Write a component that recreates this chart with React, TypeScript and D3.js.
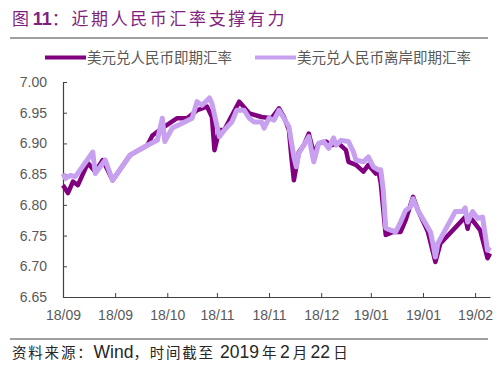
import { useRef, useEffect } from 'react';
import * as d3 from 'd3';

// 美元兑人民币即期汇率 (onshore)
const onshoreDates = [
  '2018-09-03', '2018-09-05', '2018-09-07', '2018-09-09', '2018-09-13', '2018-09-16', '2018-09-19', '2018-09-23',
  '2018-09-30', '2018-10-07', '2018-10-09', '2018-10-13', '2018-10-19', '2018-10-23', '2018-10-27', '2018-10-31',
  '2018-11-02', '2018-11-03', '2018-11-05', '2018-11-07', '2018-11-13', '2018-11-17', '2018-11-22', '2018-11-26',
  '2018-11-29', '2018-12-01', '2018-12-03', '2018-12-04', '2018-12-05', '2018-12-07', '2018-12-09', '2018-12-11',
  '2018-12-13', '2018-12-15', '2018-12-18', '2018-12-20', '2018-12-23', '2018-12-26', '2018-12-27', '2018-12-30',
  '2019-01-02', '2019-01-04', '2019-01-07', '2019-01-08', '2019-01-09', '2019-01-11', '2019-01-14', '2019-01-17',
  '2019-01-19', '2019-01-22', '2019-01-24', '2019-01-28', '2019-01-31', '2019-02-02', '2019-02-12', '2019-02-13',
  '2019-02-14', '2019-02-18', '2019-02-21', '2019-02-22',
];
const onshoreValues = [
  6.832, 6.819, 6.838, 6.832, 6.868, 6.854, 6.873, 6.840,
  6.881, 6.897, 6.913, 6.925, 6.941, 6.941, 6.954, 6.960,
  6.943, 6.889, 6.922, 6.922, 6.968, 6.949, 6.943, 6.941,
  6.957, 6.943, 6.922, 6.878, 6.840, 6.886, 6.897, 6.916,
  6.884, 6.900, 6.903, 6.897, 6.900, 6.889, 6.870, 6.865,
  6.854, 6.865, 6.851, 6.857, 6.835, 6.751, 6.756, 6.756,
  6.775, 6.813, 6.791, 6.756, 6.707, 6.737, 6.780, 6.761,
  6.780, 6.759, 6.713, 6.721,
];

// 美元兑人民币离岸即期汇率 (offshore)
const offshoreDates = [
  '2018-09-03', '2018-09-04', '2018-09-06', '2018-09-08', '2018-09-15', '2018-09-16', '2018-09-20', '2018-09-23',
  '2018-09-30', '2018-10-07', '2018-10-11', '2018-10-13', '2018-10-14', '2018-10-17', '2018-10-21', '2018-10-25',
  '2018-10-27', '2018-10-29', '2018-11-01', '2018-11-02', '2018-11-05', '2018-11-07', '2018-11-10', '2018-11-12',
  '2018-11-15', '2018-11-17', '2018-11-19', '2018-11-22', '2018-11-23', '2018-11-25', '2018-11-27', '2018-11-29',
  '2018-12-01', '2018-12-03', '2018-12-05', '2018-12-06', '2018-12-07', '2018-12-11', '2018-12-13', '2018-12-15',
  '2018-12-17', '2018-12-19', '2018-12-21', '2018-12-22', '2018-12-24', '2018-12-27', '2018-12-29', '2018-12-30',
  '2019-01-02', '2019-01-04', '2019-01-06', '2019-01-08', '2019-01-09', '2019-01-10', '2019-01-11', '2019-01-13',
  '2019-01-15', '2019-01-17', '2019-01-19', '2019-01-21', '2019-01-22', '2019-01-24', '2019-01-27', '2019-01-29',
  '2019-01-30', '2019-01-31', '2019-02-01', '2019-02-08', '2019-02-11', '2019-02-12', '2019-02-13', '2019-02-15',
  '2019-02-17', '2019-02-19', '2019-02-21', '2019-02-22',
];
const offshoreValues = [
  6.851, 6.843, 6.848, 6.846, 6.886, 6.851, 6.873, 6.840,
  6.881, 6.897, 6.905, 6.941, 6.903, 6.925, 6.933, 6.941,
  6.968, 6.962, 6.974, 6.965, 6.911, 6.922, 6.935, 6.954,
  6.954, 6.941, 6.935, 6.935, 6.925, 6.941, 6.938, 6.954,
  6.941, 6.927, 6.878, 6.862, 6.884, 6.911, 6.870, 6.900,
  6.903, 6.892, 6.909, 6.897, 6.905, 6.903, 6.886, 6.873,
  6.870, 6.878, 6.862, 6.857, 6.857, 6.824, 6.762, 6.759,
  6.756, 6.772, 6.791, 6.797, 6.810, 6.791, 6.770, 6.756,
  6.737, 6.715, 6.737, 6.789, 6.789, 6.795, 6.772, 6.789,
  6.778, 6.780, 6.726, 6.731,
];

const xTickDates = ['2018-09-03', '2018-09-24', '2018-10-15', '2018-11-04', '2018-11-25', '2018-12-16', '2019-01-05', '2019-01-26', '2019-02-16'];
const xTickLabels = ['18/09', '18/09', '18/10', '18/11', '18/11', '18/12', '19/01', '19/01', '19/02'];
const yTicks = [6.65, 6.70, 6.75, 6.80, 6.85, 6.90, 6.95, 7.00];

const seriesNames = ['美元兑人民币即期汇率', '美元兑人民币离岸即期汇率'];
const seriesColors = ['#800080', '#c8a0f0'];

const titleText = '图 11：近期人民币汇率支撑有力';

export default function App() {
  const svgRef = useRef<SVGSVGElement | null>(null);

  useEffect(() => {
    const width = 500, height = 365;
    const margin = { top: 82, left: 63 };
    const innerWidth = 490 - margin.left;
    const innerHeight = 297 - margin.top;

    const svg = d3.select(svgRef.current);
    svg.selectAll('*').remove();
    svg.attr('width', width).attr('height', height);

    const parse = d3.timeParse('%Y-%m-%d');
    const grey = '#595959';
    const cjk = '"Noto Sans CJK SC", sans-serif';
    const latin = '"Liberation Sans", Arial, sans-serif';

    // 标题
    const title = svg.append('text')
      .attr('x', 12)
      .attr('y', 25)
      .attr('fill', '#7f1f7f')
      .style('font-family', cjk)
      .style('font-size', '17px');
    title.append('tspan').text('图 ');
    title.append('tspan').style('font-family', latin).style('font-weight', 'bold').style('font-size', '18px').text('11');
    title.append('tspan').attr('letter-spacing', 2.6).text(titleText.slice(4));

    svg.append('line')
      .attr('x1', 10).attr('x2', 488)
      .attr('y1', 38).attr('y2', 38)
      .attr('stroke', '#7f7f7f').attr('stroke-width', 1.5);

    // 图例
    const legendX = [45, 255];
    seriesNames.forEach((name, i) => {
      svg.append('line')
        .attr('x1', legendX[i]).attr('x2', legendX[i] + 41)
        .attr('y1', 57.5).attr('y2', 57.5)
        .attr('stroke', seriesColors[i]).attr('stroke-width', 4);
      svg.append('text')
        .attr('x', legendX[i] + 42)
        .attr('y', 62.5)
        .attr('fill', grey)
        .style('font-family', cjk)
        .style('font-size', '14.5px')
        .text(name);
    });

    const g = svg.append('g').attr('transform', `translate(${margin.left},${margin.top})`);

    const xScale = d3.scaleTime()
      .domain([parse('2018-09-03') as Date, parse('2019-02-22') as Date])
      .range([0, innerWidth]);
    const yScale = d3.scaleLinear().domain([6.65, 7.0]).range([innerHeight, 0]);

    // Y 轴
    const yAxis = g.append('g')
      .call(d3.axisLeft(yScale).tickValues(yTicks).tickFormat(d3.format('.2f')).tickSizeInner(-4).tickSizeOuter(0).tickPadding(16));
    yAxis.select('.domain').attr('stroke', '#404040').attr('stroke-width', 1.2);
    yAxis.selectAll('.tick line').attr('stroke', '#404040');
    yAxis.selectAll('.tick text').attr('fill', grey).style('font-family', latin).style('font-size', '14px');

    // X 轴
    const xAxis = g.append('g')
      .attr('transform', `translate(0,${innerHeight})`)
      .call(d3.axisBottom(xScale)
        .tickValues(xTickDates.map((d) => parse(d) as Date))
        .tickFormat((d, i) => xTickLabels[i])
        .tickSizeInner(-4).tickSizeOuter(0).tickPadding(13));
    xAxis.select('.domain').attr('stroke', '#404040').attr('stroke-width', 1.2);
    xAxis.selectAll('.tick line').attr('stroke', '#404040');
    xAxis.selectAll('.tick text').attr('fill', grey).style('font-family', latin).style('font-size', '14px');

    // 折线
    const line = d3.line<[Date, number]>()
      .x((d) => xScale(d[0]))
      .y((d) => yScale(d[1]));

    const onshore: [Date, number][] = onshoreDates.map((d, i) => [parse(d) as Date, onshoreValues[i]]);
    const offshore: [Date, number][] = offshoreDates.map((d, i) => [parse(d) as Date, offshoreValues[i]]);

    g.append('path')
      .datum(onshore)
      .attr('d', line)
      .attr('fill', 'none')
      .attr('stroke', seriesColors[0])
      .attr('stroke-width', 4.5)
      .attr('stroke-linejoin', 'round');
    g.append('path')
      .datum(offshore)
      .attr('d', line)
      .attr('fill', 'none')
      .attr('stroke', seriesColors[1])
      .attr('stroke-width', 5)
      .attr('stroke-linejoin', 'round');

    // 资料来源
    svg.append('line')
      .attr('x1', 10).attr('x2', 488)
      .attr('y1', 339).attr('y2', 339)
      .attr('stroke', '#404040').attr('stroke-width', 1);
    const src = svg.append('text')
      .attr('x', 12)
      .attr('y', 358)
      .attr('fill', '#262626')
      .style('font-family', cjk)
      .style('font-size', '14.5px');
    src.append('tspan').attr('letter-spacing', 1.8).text('资料来源：');
    src.append('tspan').style('font-family', latin).style('font-size', '17.5px').text('Wind');
    src.append('tspan').attr('letter-spacing', 1.8).text('，时间截至 ');
    src.append('tspan').style('font-family', latin).style('font-size', '17.5px').text('2019');
    src.append('tspan').text(' 年 ');
    src.append('tspan').style('font-family', latin).style('font-size', '17.5px').text('2');
    src.append('tspan').text(' 月 ');
    src.append('tspan').style('font-family', latin).style('font-size', '17.5px').text('22');
    src.append('tspan').text(' 日');
  }, []);

  return (
    <div style={{ position: 'absolute', left: 0, top: 0 }}>
      <svg ref={svgRef}></svg>
    </div>
  );
}
